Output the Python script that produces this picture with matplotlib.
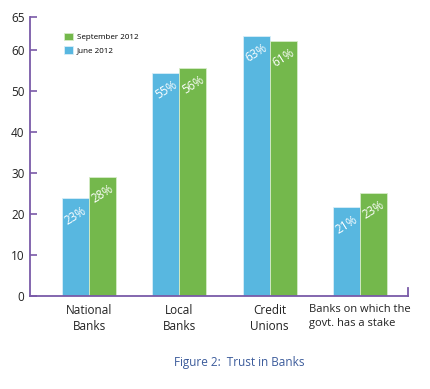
import matplotlib
matplotlib.use("Agg")
import matplotlib.pyplot as plt
import numpy as np

categories = ["National\nBanks", "Local\nBanks", "Credit\nUnions", "Banks on which the\ngovt. has a stake"]
june_2012 = [23.8, 54.3, 63.3, 21.6]
sept_2012 = [29.0, 55.5, 62.1, 25.1]
june_labels = ["23%", "55%", "63%", "21%"]
sept_labels = ["28%", "56%", "61%", "23%"]
ytick_vals = [0, 10, 20, 30, 40, 50, 60, 67.9]
ytick_labels = ["0", "10", "20", "30", "40", "50", "60", "65"]

plt.rcParams['font.family'] = ['Open Sans', 'DejaVu Sans']

blue = "#58B7E0"
green = "#74B84C"
purple = "#7A5AA8"

fig = plt.figure(figsize=(4.31, 3.89), dpi=100)
ax = fig.add_axes([0.0696, 0.239, 0.877, 0.717])

x = np.arange(len(categories))
w = 0.3
ax.bar(x - w/2, june_2012, w, color=blue, edgecolor="#d8eef8", linewidth=0.6, label="June 2012")
ax.bar(x + w/2, sept_2012, w, color=green, edgecolor="#d6ecc8", linewidth=0.6, label="September 2012")

for xi, v, t in zip(x - w/2, june_2012, june_labels):
    ax.annotate(t, (xi, v), xytext=(0, -4), textcoords="offset points", ha="center", va="top",
                rotation=32, color="white", fontsize=8.5)
for xi, v, t in zip(x + w/2, sept_2012, sept_labels):
    ax.annotate(t, (xi, v), xytext=(0, -4), textcoords="offset points", ha="center", va="top",
                rotation=32, color="white", fontsize=8.5)

ax.set_xlim(-0.653, 3.53)
ax.set_ylim(0, 67.9)
ax.set_yticks(ytick_vals)
ax.set_yticklabels(ytick_labels, fontsize=8.5, color="#222222")
ax.tick_params(axis="y", direction="in", length=5, width=1.2, color=purple, pad=4)
ax.set_xticks(x)
ax.set_xticklabels(categories, fontsize=8.5, color="#222222", linespacing=1.3)
ax.tick_params(axis="x", length=0, pad=6)
lbls = ax.get_xticklabels()
lbls[-1].set_fontsize(8)
lbls[-1].set_multialignment("left")

for s in ["top", "right"]:
    ax.spines[s].set_visible(False)
for s in ["left", "bottom"]:
    ax.spines[s].set_color(purple)
    ax.spines[s].set_linewidth(1.3)
ax.plot([1, 1], [0, 0.03], transform=ax.transAxes, color=purple, lw=1.3, clip_on=False)

h, l = ax.get_legend_handles_labels()
ax.legend(h[::-1], l[::-1], loc="upper left", bbox_to_anchor=(0.07, 0.97), frameon=False,
          fontsize=5.8, handlelength=1.1, handleheight=1.1, handletextpad=0.5, labelspacing=0.55)

fig.text(0.555, 0.067, "Figure 2:  Trust in Banks", ha="center", va="center", fontsize=8.5, color="#3B5B9B")

fig.savefig("out.png", dpi=100)
